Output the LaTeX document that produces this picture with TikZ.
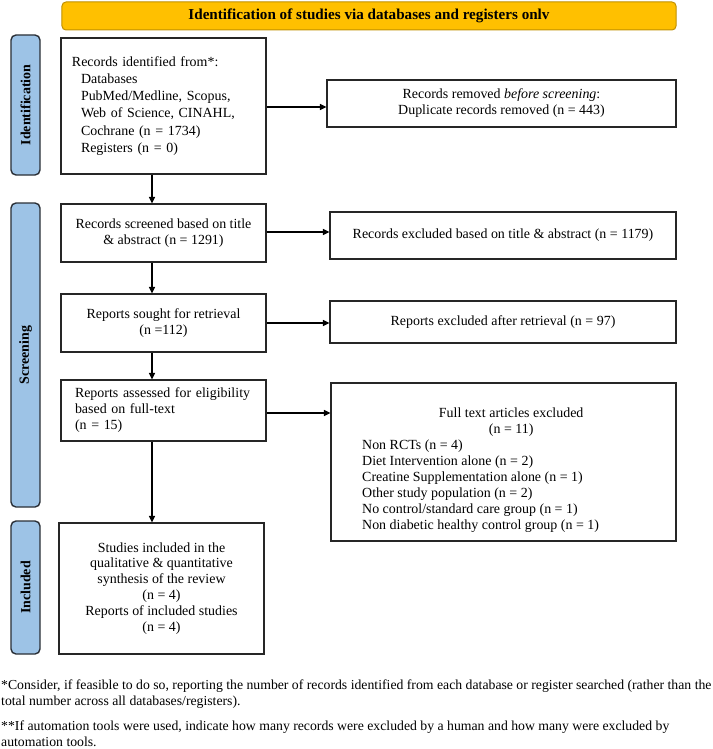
\documentclass[tikz,border=0pt]{standalone}
\usepackage{fontspec}
\setmainfont{Liberation Serif}
\usetikzlibrary{arrows.meta}
\definecolor{bannerfill}{HTML}{FFC000}
\definecolor{bannerdraw}{HTML}{C09000}
\definecolor{barfill}{HTML}{9DC3E6}
\definecolor{bardraw}{HTML}{2A2F36}
\tikzset{
  box/.style={draw=black!85, line width=1.1bp, rectangle, inner sep=0pt, font=\fontsize{14}{16}\selectfont},
  bar/.style={draw=bardraw, fill=barfill, line width=1.4bp, rounded corners=5bp, minimum width=29bp, inner sep=0pt},
  barlabel/.style={rotate=90, font=\fontsize{14}{16}\selectfont\bfseries},
  arr/.style={line width=1.1bp, -{Triangle[length=6.5bp,width=6bp]}},
  foot/.style={anchor=north west, align=left, inner sep=0pt, font=\fontsize{13.8}{16.2}\selectfont}
}
\begin{document}
\begin{tikzpicture}[x=1bp,y=-1bp]
\useasboundingbox (0,0) rectangle (713,749);
% banner
\node[draw=bannerdraw, fill=bannerfill, line width=1bp, rounded corners=4bp, minimum width=614bp, minimum height=28bp, inner sep=0pt,
  font=\fontsize{15.2}{16}\selectfont\bfseries] (banner) at (369,16) {Identification of studies via databases and registers onlv};
% side bars
\node[bar, minimum height=140bp] (barid) at (25.5,105) {};
\node[barlabel] (lid) at (barid.center) {Identification};
\node[bar, minimum height=304bp] (barsc) at (25.5,355) {};
\node[barlabel] (lsc) at (barsc.center) {Screening};
\node[bar, minimum height=133bp] (barin) at (25.5,587.5) {};
\node[barlabel] (lin) at (barin.center) {Included};
% left column
\node[box, minimum width=205bp, minimum height=136bp, text width=183bp, align=left, font=\fontsize{14}{17.2}\selectfont] (id) at (163.5,106)
  {Records identified from*:\\
   \hspace*{9bp}Databases\\
   \hspace*{9bp}PubMed/Medline, Scopus,\\
   \hspace*{9bp}Web of Science, CINAHL,\\
   \hspace*{9bp}Cochrane (n = 1734)\\
   \hspace*{9bp}Registers (n = 0)};
\node[box, minimum width=205bp, minimum height=58bp, align=center] (scr) at (163.5,233)
  {Records screened based on title\\ \& abstract (n = 1291)};
\node[box, minimum width=205bp, minimum height=58bp, align=center] (sou) at (163.5,323)
  {Reports sought for retrieval\\ (n =112)};
\node[box, minimum width=205bp, minimum height=61bp, text width=177bp, align=left] (ass) at (163.5,410.5)
  {Reports assessed for eligibility\\ based on full-text\\ (n = 15)};
\node[box, minimum width=205bp, minimum height=131bp, align=center] (inc) at (161.5,588.5)
  {Studies included in the\\ qualitative \& quantitative\\ synthesis of the review\\ (n = 4)\\ Reports of included studies\\ (n = 4)};
% right column
\node[box, minimum width=349bp, minimum height=47bp, align=center] (rem) at (501.5,103.5)
  {Records removed \textit{before screening}:\\ Duplicate records removed (n = 443)};
\node[box, minimum width=346bp, minimum height=47bp] (ex1) at (503,235.5)
  {Records excluded based on title \& abstract (n = 1179)};
\node[box, minimum width=346bp, minimum height=42bp] (ex2) at (503,322)
  {Reports excluded after retrieval (n = 97)};
\node[box, minimum width=345bp, minimum height=158bp] (ft) at (503.5,462) {};
\node[align=left, inner sep=0pt, font=\fontsize{14}{16}\selectfont, anchor=north west] (ftt) at (362,408)
  {\makebox[298bp]{Full text articles excluded}\\
   \makebox[298bp]{(n = 11)}\\
   Non RCTs (n = 4)\\
   Diet Intervention alone (n = 2)\\
   Creatine Supplementation alone (n = 1)\\
   Other study population (n = 2)\\
   No control/standard care group (n = 1)\\
   Non diabetic healthy control group (n = 1)};
% connectors
\coordinate (vx) at (152,0);
\draw[arr] (id.south -| vx) -- (scr.north -| vx);
\draw[arr] (scr.south -| vx) -- (sou.north -| vx);
\draw[arr] (sou.south -| vx) -- (ass.north -| vx);
\draw[arr] (ass.south -| vx) -- (inc.north -| vx);
\draw[arr] ([yshift=-1bp]id.east) -- ([yshift=-1bp]id.east -| rem.west);
\draw[arr] ([yshift=1bp]scr.east) -- ([yshift=1bp]scr.east -| ex1.west);
\draw[arr] (sou.east) -- (sou.east -| ex2.west);
\draw[arr] ([yshift=-2.5bp]ass.east) -- ([yshift=-2.5bp]ass.east -| ft.west);
% footnotes
\node[foot] (fn1) at (1,679.5) {*Consider, if feasible to do so, reporting the number of records identified from each database or register searched (rather than the\\ total number across all databases/registers).};
\node[foot] (fn2) at (1,720.5) {**If automation tools were used, indicate how many records were excluded by a human and how many were excluded by\\ automation tools.};
\end{tikzpicture}
\end{document}
